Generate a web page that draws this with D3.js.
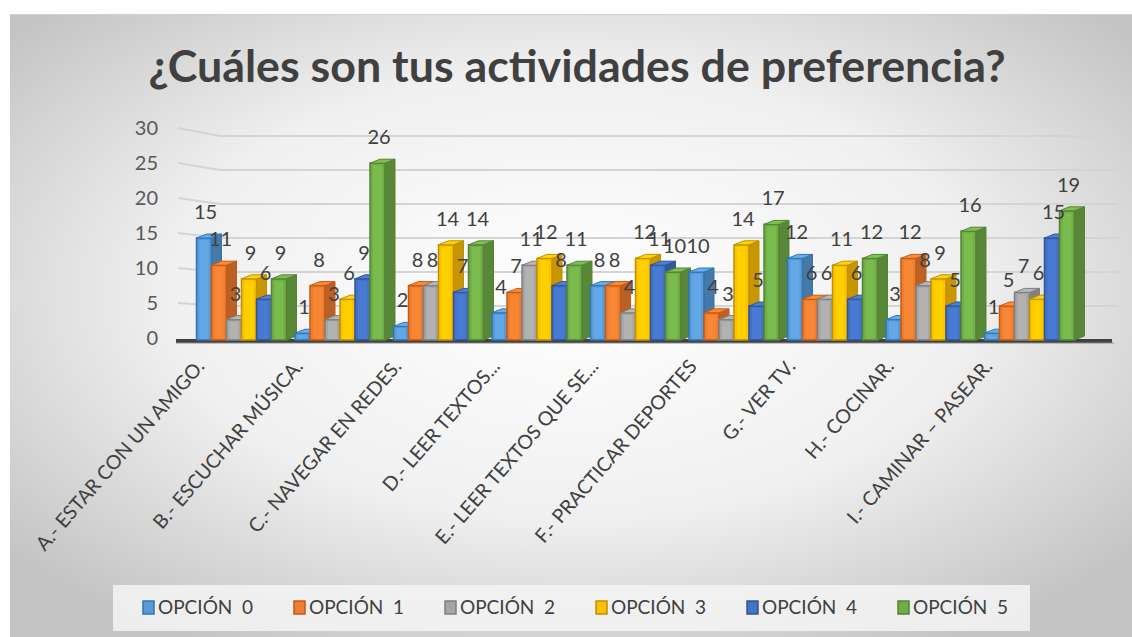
<!DOCTYPE html>
<html><head><meta charset="utf-8">
<script src="https://cdn.jsdelivr.net/npm/d3@7"></script>
<style>body{margin:0;background:#fff;}svg{display:block;}</style>
</head><body>
<svg id="c" width="1132" height="637"></svg>
<script>
const categories = ["A.- ESTAR CON UN AMIGO.","B.- ESCUCHAR MÚSICA.","C.- NAVEGAR EN REDES.","D.- LEER TEXTOS...","E.- LEER TEXTOS QUE SE...","F.- PRACTICAR DEPORTES","G.- VER TV.","H.- COCINAR.","I.- CAMINAR – PASEAR."];
const seriesNames = ["OPCIÓN  0","OPCIÓN  1","OPCIÓN  2","OPCIÓN  3","OPCIÓN  4","OPCIÓN  5"];
const opcion0 = [15,1,2,4,8,10,12,3,1];
const opcion1 = [11,8,8,7,8,4,6,12,5];
const opcion2 = [3,3,8,11,4,3,6,8,7];
const opcion3 = [9,6,14,12,12,14,11,9,6];
const opcion4 = [6,9,7,8,11,5,6,5,15];
const opcion5 = [9,26,14,11,10,17,12,16,19];
const yTicks = [0,5,10,15,20,25,30];
const title = "¿Cuáles son tus actividades de preferencia?";

const seriesValues = [opcion0,opcion1,opcion2,opcion3,opcion4,opcion5];
const colors = ["#5B9BD5","#ED7D31","#A5A5A5","#FFC000","#4472C4","#70AD47"];
const strokes = ["#2E75B6","#C55A11","#7F7F7F","#BF9000","#2F5597","#548235"];

const svg = d3.select("#c");
const defs = svg.append("defs");
const rg = defs.append("radialGradient").attr("id","bg").attr("cx","50%").attr("cy","45%").attr("r","65%");
rg.append("stop").attr("offset","0%").attr("stop-color","#ffffff");
rg.append("stop").attr("offset","55%").attr("stop-color","#f0f0f0");
rg.append("stop").attr("offset","100%").attr("stop-color","#c4c4c4");

svg.append("rect").attr("x",0).attr("y",0).attr("width",1132).attr("height",637).attr("fill","#ffffff");
svg.append("rect").attr("x",10).attr("y",14).attr("width",1122).attr("height",623).attr("fill","url(#bg)");
svg.append("line").attr("x1",10).attr("x2",1132).attr("y1",14.5).attr("y2",14.5).attr("stroke","#d0d0d0");

// title
const t = svg.append("text").attr("x",577).attr("y",82).attr("text-anchor","middle")
  .attr("font-family","Lato, 'Open Sans', sans-serif").attr("font-weight","bold").attr("font-size",44)
  .attr("fill","#404040").text(title);
t.attr("textLength",857).attr("lengthAdjust","spacingAndGlyphs");

// scales
const x0 = d3.scaleBand().domain(categories).range([196.5, 196.5+9*98.5]).padding(0);
const x1 = d3.scaleBand().domain(d3.range(6)).range([0,90]).padding(0);
const yG = d3.scaleLinear().domain([0,30]).range([340,136]);
const yL = d3.scaleLinear().domain([0,30]).range([338,128]);

// gridlines with slanted left wall
const grid = svg.append("g");
yTicks.filter(v=>v>0).forEach(v=>{
  grid.append("path").attr("d",`M178,${yL(v)}L220,${yG(v)}L1118,${yG(v)}`)
    .attr("fill","none").attr("stroke","#d4d4d4").attr("stroke-width",2);
});
// floor
svg.append("path").attr("d",`M176,${yG(0)+1}L1112,${yG(0)+1}`).attr("stroke","#404040").attr("stroke-width",4);
svg.append("path").attr("d",`M176,${yG(0)+3}L1114,${yG(0)+3}`).attr("stroke","#8a8a8a").attr("stroke-width",1);

// y axis labels
const yAxis = d3.axisLeft(yL).tickValues(yTicks).tickSize(0).tickPadding(0);
const ya = svg.append("g").attr("transform","translate(158,0)").call(yAxis);
ya.select(".domain").remove();
ya.selectAll("text").attr("font-family","Lato, sans-serif").attr("font-size",20).attr("fill","#595959");

// bars
const W = 15, DX = 10, DY = -4;
const bars = svg.append("g");
categories.forEach((c,ci)=>{
  seriesValues.forEach((vals,si)=>{
    const v = vals[ci];
    const bx = x0(c) + x1(si);
    const top = yG(v), bot = yG(0);
    const g = bars.append("g");
    const col = d3.color(colors[si]);
    g.append("path").attr("d",`M${bx+W},${top}L${bx+W+DX},${top+DY}L${bx+W+DX},${bot+DY}L${bx+W},${bot}Z`)
      .attr("fill",col.darker(0.7)).attr("stroke",strokes[si]).attr("stroke-width",1);
    g.append("rect").attr("x",bx).attr("y",top).attr("width",W).attr("height",bot-top)
      .attr("fill",colors[si]).attr("stroke",strokes[si]).attr("stroke-width",1.5);
    g.append("rect").attr("x",bx+3).attr("y",top+2).attr("width",W-6).attr("height",Math.max(0,bot-top-3))
      .attr("fill",col.brighter(0.35)).attr("opacity",0.6);
    g.append("path").attr("d",`M${bx},${top}L${bx+W},${top}L${bx+W+DX},${top+DY}L${bx+DX},${top+DY}Z`)
      .attr("fill",col.brighter(0.3)).attr("stroke",strokes[si]).attr("stroke-width",1);
  });
});

// data labels
const labels = svg.append("g");
categories.forEach((c,ci)=>{
  seriesValues.forEach((vals,si)=>{
    const v = vals[ci];
    labels.append("text").attr("x",x0(c)+x1(si)+9).attr("y",yG(v)-19)
      .attr("text-anchor","middle").attr("font-family","Lato, sans-serif").attr("font-size",20)
      .attr("fill","#404040").text(v);
  });
});

// category labels
const cl = svg.append("g");
categories.forEach((c,ci)=>{
  const ax = x0(c)+9, ay = 367;
  cl.append("text").attr("transform",`translate(${ax},${ay}) rotate(-49)`)
    .attr("text-anchor","end").attr("font-family","Lato, sans-serif").attr("font-size",19.5)
    .attr("fill","#404040").text(c);
});

// legend
svg.append("rect").attr("x",113).attr("y",585).attr("width",917).attr("height",46).attr("fill","#f4f4f4").attr("opacity",0.85);
const legX = d3.scaleBand().domain(d3.range(6)).range([143,143+6*151]);
seriesNames.forEach((n,i)=>{
  const lx = legX(i);
  svg.append("rect").attr("x",lx).attr("y",601).attr("width",11).attr("height",13)
    .attr("fill",colors[i]).attr("stroke",strokes[i]).attr("stroke-width",1.5);
  svg.append("text").attr("x",lx+15).attr("y",614).attr("font-family","Lato, sans-serif").attr("font-size",19)
    .attr("fill","#404040").attr("xml:space","preserve").style("white-space","pre").text(n);
});
</script>
</body></html>
